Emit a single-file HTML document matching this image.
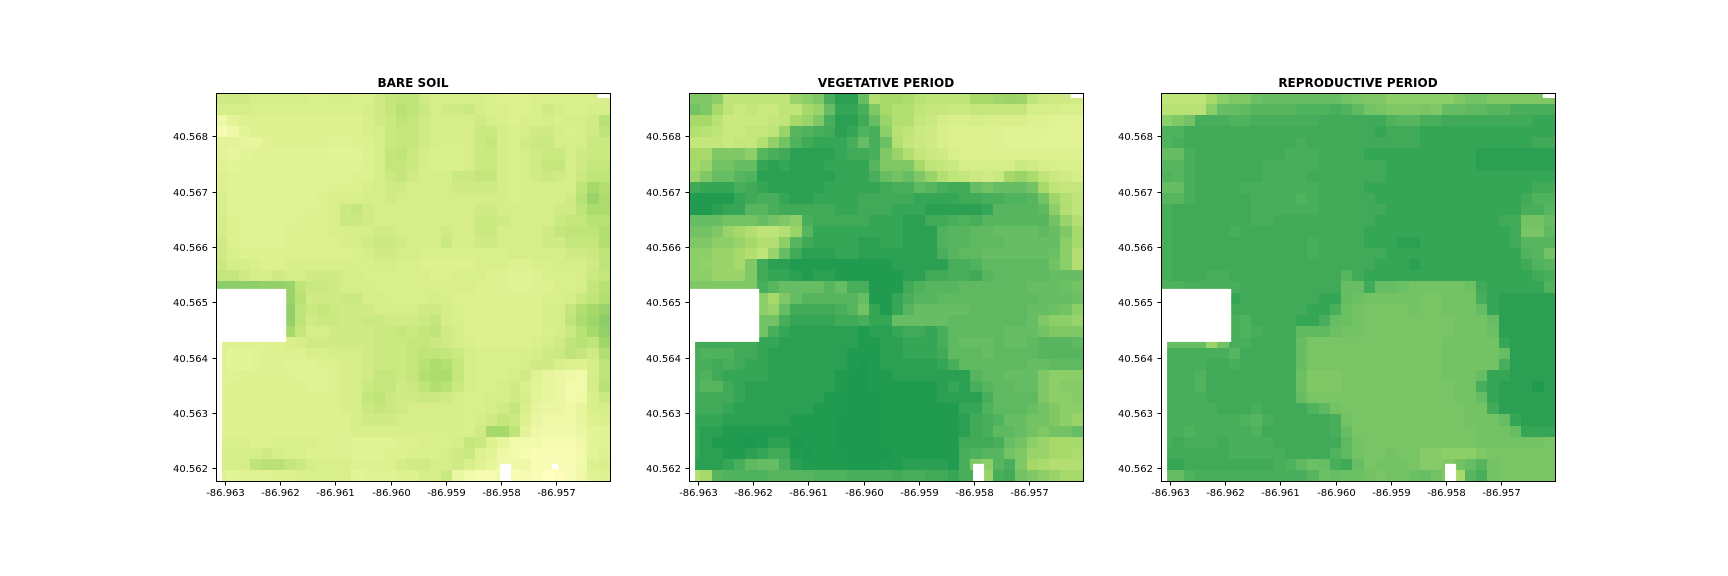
<!DOCTYPE html>
<html lang="en">
<head>
<meta charset="utf-8">
<title>NDVI maps by growth stage</title>
<style>
html,body{margin:0;padding:0;background:#fff}
#figure{display:block;width:1728px;height:576px;background:#fff}
text{font-family:"DejaVu Sans","Liberation Sans",sans-serif;fill:#000}
.tick-label{font-size:10px}
.panel-title{font-size:12px;font-weight:bold;text-anchor:middle}
</style>
</head>
<body>
<svg id="figure" xmlns="http://www.w3.org/2000/svg" width="1728" height="576" viewBox="0 0 1728 576"></svg>
<script>
const panelTitles = ["BARE SOIL", "VEGETATIVE PERIOD", "REPRODUCTIVE PERIOD"];
const xTickValues = [-86.963, -86.962, -86.961, -86.960, -86.959, -86.958, -86.957];
const yTickValues = [40.562, 40.563, 40.564, 40.565, 40.566, 40.567, 40.568];
const lonExtent = [-86.96316, -86.95603];
const latExtent = [40.56177, 40.56878];

// no-data extents: [lonMin, lonMax, latMin, latMax]
const sharedNoData = [
  [-86.96316, -86.96189, 40.564283, 40.565241],
  [-86.96316, -86.96305, 40.56177, 40.564283],
  [-86.95625, -86.95603, 40.56869, 40.56878],
  [-86.95802, -86.95782, 40.56177, 40.56208]
];
const bareSoilExtraNoData = [
  [-86.95708, -86.95697, 40.56198, 40.56208]
];

// index values x100, rows north to south
const bareSoilValues = [
[63,63,63,62,62, 62,62,62,61,61, 62,62,61,61,63, 65,66,66,63,62, 62,62,62,62,61, 60,60,60,61,61, 61,61,61,61,61],
[62,62,62,61,61, 61,61,61,61,61, 61,61,61,62,63, 65,67,66,64,62, 63,63,64,62,61, 61,60,60,61,63, 62,61,61,62,62],
[55,58,60,60,60, 60,60,60,60,60, 60,60,60,61,63, 64,66,65,63,62, 62,62,62,63,62, 61,60,61,61,62, 61,62,62,63,67],
[53,55,58,60,60, 60,60,60,60,60, 60,60,60,61,62, 64,65,65,63,62, 62,62,62,64,64, 62,61,62,63,63, 62,61,62,63,66],
[58,58,57,57,59, 60,60,60,60,60, 59,59,60,60,62, 64,65,65,63,62, 61,61,62,64,65, 62,61,63,64,64, 62,62,62,64,64],
[58,57,58,59,59, 59,59,59,59,59, 58,58,58,60,62, 65,66,64,62,61, 61,61,62,64,64, 62,61,62,63,64, 64,62,63,64,64],
[59,58,59,59,59, 59,59,59,59,59, 59,59,59,60,62, 65,65,64,62,61, 61,61,62,64,64, 62,61,62,63,65, 65,62,63,65,65],
[60,59,59,59,59, 59,59,59,59,59, 59,59,60,60,62, 64,65,63,62,62, 62,64,64,65,65, 62,61,62,63,64, 63,62,64,66,66],
[60,59,59,59,59, 59,59,59,59,59, 60,60,60,61,62, 63,63,62,62,62, 62,63,63,63,63, 62,61,62,62,62, 62,62,66,70,68],
[61,59,59,59,59, 59,59,59,59,60, 61,61,61,62,62, 63,62,62,62,62, 62,62,62,62,62, 62,61,62,62,62, 62,63,67,72,69],
[61,59,59,59,59, 59,59,59,60,60, 61,64,65,63,62, 62,62,62,62,62, 62,62,62,63,63, 62,62,62,62,62, 63,63,66,69,69],
[62,60,59,59,59, 59,59,60,60,60, 61,64,64,63,62, 62,62,62,62,62, 62,62,62,64,64, 63,62,62,62,62, 64,65,65,67,67],
[62,60,59,59,59, 59,60,60,60,60, 61,61,62,62,63, 63,62,62,62,62, 63,62,62,64,64, 62,62,62,62,63, 65,66,66,66,68],
[63,60,59,59,59, 59,60,60,60,60, 60,61,62,63,64, 64,63,62,62,62, 64,62,62,63,63, 62,62,62,62,63, 63,65,65,65,68],
[63,61,60,60,60, 60,60,60,60,60, 60,60,61,62,63, 63,62,62,61,61, 61,61,61,61,61, 61,62,62,62,62, 62,63,63,64,66],
[64,62,62,61,60, 60,61,61,61,61, 61,61,61,61,62, 62,61,61,60,60, 60,60,60,61,61, 61,60,60,61,61, 62,62,62,63,66],
[65,65,63,62,62, 63,62,62,63,63, 63,62,62,61,61, 61,61,61,61,60, 60,61,61,61,60, 60,59,59,60,61, 61,61,62,64,65],
[74,74,74,74,73, 73,72,66,64,64, 63,62,62,62,61, 61,61,61,61,61, 61,61,61,60,60, 60,59,59,60,60, 61,61,62,65,67],
[70,70,70,70,70, 70,72,67,63,63, 63,64,64,62,62, 61,61,61,61,62, 61,60,60,60,60, 60,60,60,60,61, 61,62,64,66,68],
[70,70,70,70,70, 70,73,66,64,65, 64,63,63,63,62, 62,62,62,63,63, 62,61,60,60,60, 60,60,60,60,62, 62,65,68,70,72],
[70,70,70,70,70, 70,73,66,63,64, 64,63,63,64,64, 63,63,63,64,65, 62,61,60,60,60, 60,60,60,60,62, 62,66,69,71,74],
[70,70,70,70,70, 70,70,65,62,62, 63,63,63,63,64, 64,65,64,65,66, 63,62,60,60,60, 60,60,60,60,61, 62,64,67,70,73],
[60,60,60,60,60, 60,61,62,63,63, 63,63,63,63,64, 64,64,65,65,64, 63,62,61,60,60, 60,60,60,61,62, 63,66,67,66,71],
[60,58,58,59,60, 60,60,60,61,61, 62,62,62,63,64, 64,64,65,66,66, 65,64,62,61,61, 61,61,61,62,63, 64,66,65,63,68],
[60,58,58,59,60, 60,59,59,59,60, 60,61,62,63,64, 64,64,65,67,69, 68,65,62,61,61, 61,61,62,63,63, 61,60,60,62,66],
[60,59,60,60,60, 60,60,59,59,59, 60,61,62,63,65, 65,64,65,68,69, 69,65,62,61,61, 61,62,63,59,57, 56,55,54,62,66],
[60,60,60,60,60, 60,60,60,59,59, 60,61,62,64,65, 65,63,64,66,68, 67,64,62,61,61, 62,63,61,58,57, 56,54,54,62,67],
[60,60,60,60,60, 60,60,60,60,60, 60,61,62,65,66, 64,63,63,64,64, 63,62,61,61,62, 62,63,62,58,57, 56,54,55,61,64],
[60,60,60,60,60, 60,60,60,60,60, 60,61,62,64,65, 64,63,62,62,62, 62,62,61,61,62, 63,65,61,57,56, 56,55,57,61,62],
[60,60,60,60,60, 60,60,60,60,60, 60,60,62,63,63, 63,62,62,62,62, 62,62,61,62,63, 65,64,60,56,55, 55,55,57,60,61],
[60,60,60,60,60, 60,60,60,60,60, 60,60,61,61,61, 61,61,61,61,61, 61,61,61,63,70, 70,66,58,55,54, 54,54,56,58,59],
[61,61,61,60,60, 61,61,61,61,60, 60,60,59,59,59, 59,60,60,61,61, 61,62,65,64,60, 57,54,54,54,53, 53,53,55,58,59],
[62,62,62,62,63, 62,61,61,60,60, 60,60,59,59,59, 60,60,61,61,61, 62,63,64,60,58, 55,54,53,52,52, 52,52,54,58,60],
[62,62,62,66,67, 67,65,64,62,61, 61,61,60,60,60, 60,62,63,63,62, 62,63,61,59,57, 55,55,55,52,52, 52,52,54,60,61],
[60,58,59,59,59, 60,60,61,61,61, 61,61,58,59,59, 59,60,60,62,62, 64,56,54,53,53, 54,52,53,52,50, 49,52,55,59,60]
];

const vegetativeValues = [
[76,76,74,66,66, 66,66,66,66,72, 74,76,84,87,87, 80,68,70,70,69, 67,66,66,66,66, 70,70,71,72,71, 66,64,63,63,63],
[78,76,70,66,64, 65,64,64,66,66, 70,72,80,86,86, 84,76,70,68,68, 66,65,65,64,64, 65,65,65,65,65, 62,62,62,61,61],
[70,70,67,64,64, 64,64,65,66,70, 72,76,84,87,87, 85,80,72,68,68, 65,64,62,61,61, 62,61,61,61,61, 60,60,59,59,59],
[68,67,66,64,64, 65,65,66,72,82, 83,84,85,87,86, 83,84,74,67,66, 64,63,61,60,60, 60,60,60,59,59, 59,59,58,58,58],
[65,65,65,64,65, 65,68,73,78,83, 85,86,86,86,84, 80,84,79,68,65, 64,63,61,60,60, 60,60,60,59,59, 59,58,58,58,58],
[70,70,76,76,76, 74,82,84,85,87, 87,87,87,86,85, 85,84,76,72,68, 65,64,63,61,60, 60,60,60,60,60, 60,60,60,60,60],
[70,72,78,78,80, 80,86,87,86,87, 87,87,86,86,86, 86,82,76,76,76, 70,66,65,64,62, 62,62,62,62,64, 63,62,61,61,61],
[72,76,80,80,82, 83,87,87,87,87, 87,87,87,86,86, 86,84,80,78,80, 76,72,68,66,65, 64,63,64,70,72, 69,66,64,63,62],
[85,86,86,86,84, 85,86,87,87,87, 87,87,86,86,86, 86,86,85,84,84, 81,82,84,85,85, 80,78,80,80,80, 78,70,66,65,65],
[88,88,88,88,86, 85,84,84,86,87, 87,86,86,86,86, 85,85,85,85,85, 86,86,86,86,85, 85,84,84,83,83, 82,78,71,68,66],
[88,88,87,86,86, 82,82,84,85,85, 85,85,85,86,86, 85,85,85,86,86, 86,87,87,87,87, 87,86,82,82,82, 82,81,74,68,66],
[80,80,80,78,78, 78,80,78,76,74, 84,85,85,85,85, 85,86,86,86,87, 87,85,85,84,83, 84,82,82,82,82, 82,82,78,72,68],
[78,78,76,72,70, 68,66,66,68,72, 82,86,86,86,86, 86,86,86,86,87, 87,87,83,82,82, 81,81,80,80,80, 80,81,80,76,70],
[76,76,74,74,72, 70,68,68,74,82, 85,86,86,86,86, 87,87,86,86,87, 87,87,83,82,82, 81,81,81,80,80, 80,80,80,74,70],
[74,74,72,72,70, 68,66,72,80,85, 87,87,87,86,86, 87,87,87,87,87, 87,87,84,82,81, 81,80,80,80,80, 80,80,79,74,68],
[74,73,72,72,70, 76,85,87,87,88, 88,88,88,88,88, 88,88,88,87,87, 87,87,87,84,84, 83,81,81,81,81, 81,81,78,74,68],
[74,74,72,72,72, 76,85,86,86,87, 88,87,87,88,88, 88,88,88,88,87, 87,85,85,84,84, 85,82,81,81,81, 81,81,80,80,80],
[76,76,76,76,76, 76,84,82,80,80, 80,80,82,80,84, 84,88,88,88,85, 83,82,82,82,81, 81,81,81,81,81, 80,80,80,79,78],
[80,80,80,80,80, 80,74,70,76,80, 82,82,82,82,82, 80,88,88,86,84, 82,82,81,81,81, 81,81,81,81,81, 81,80,80,80,79],
[80,80,80,80,80, 80,74,72,80,85, 85,85,85,84,82, 78,86,88,86,82, 80,80,80,80,80, 81,81,81,81,81, 80,80,79,78,74],
[80,80,80,80,80, 80,78,78,84,86, 86,86,86,85,85, 84,86,86,80,80, 80,80,80,81,81, 81,81,81,81,81, 80,76,74,74,72],
[80,80,80,80,80, 80,78,84,86,87, 87,87,87,87,87, 88,87,87,86,85, 85,86,84,81,81, 81,81,81,80,80, 80,78,76,76,76],
[85,85,85,85,85, 85,86,86,87,87, 87,87,87,87,87, 88,88,87,87,86, 86,86,84,81,80, 80,80,81,80,80, 81,82,82,82,81],
[84,83,83,83,85, 85,86,87,87,87, 87,87,87,87,88, 88,88,87,87,86, 86,86,85,81,81, 81,80,81,81,81, 81,82,82,82,82],
[84,84,85,84,85, 86,86,87,87,87, 87,87,87,87,88, 89,88,87,87,87, 87,87,86,84,81, 81,81,81,81,81, 80,80,81,81,81],
[84,83,85,86,86, 86,86,87,87,87, 87,87,87,88,89, 89,88,88,87,87, 87,87,87,87,87, 82,81,81,80,80, 80,76,74,74,74],
[84,82,82,85,86, 87,87,87,87,87, 87,87,87,88,89, 89,88,88,88,88, 88,88,87,86,87, 84,82,81,81,80, 80,76,74,75,75],
[85,85,85,85,86, 87,87,87,87,87, 87,87,88,88,89, 89,89,88,88,88, 88,88,87,87,87, 87,84,81,81,81, 81,76,74,74,75],
[85,85,85,86,87, 87,87,87,87,87, 87,88,88,88,89, 89,89,88,88,88, 88,88,88,88,86, 86,83,81,81,81, 80,78,76,74,74],
[86,86,86,87,87, 87,87,87,87,88, 88,88,88,89,89, 89,89,88,88,88, 88,88,88,88,87, 85,84,83,80,80, 78,78,76,74,72],
[86,87,87,88,88, 88,88,88,88,88, 88,88,88,89,89, 89,89,88,88,88, 88,88,88,88,87, 85,84,81,81,80, 78,76,78,78,80],
[86,87,88,88,88, 89,88,87,87,89, 88,88,88,89,89, 89,89,88,88,88, 88,88,88,88,85, 85,85,84,80,78, 74,72,70,70,70],
[86,87,87,88,88, 87,86,85,85,88, 89,88,88,88,89, 89,89,89,88,88, 88,88,88,88,84, 83,82,82,78,76, 72,72,70,70,69],
[87,87,87,86,84, 81,80,80,84,87, 88,88,88,88,89, 89,89,88,88,87, 87,87,87,88,84, 76,74,82,84,76, 70,69,68,68,68],
[68,70,82,83,83, 83,83,82,82,82, 82,83,83,83,84, 84,84,84,85,84, 84,85,85,86,84, 84,72,84,85,78, 76,74,72,70,70]
];

const reproductiveValues = [
[66,66,66,66,70, 74,76,76,79,80, 80,80,80,80,80, 80,78,77,76,76, 74,74,74,74,74, 74,76,78,78,76, 76,76,76,76,76],
[67,67,67,67,74, 80,80,81,82,82, 82,82,83,83,83, 84,83,81,78,77, 76,76,76,77,76, 80,80,81,81,82, 82,84,84,84,84],
[74,76,78,84,84, 84,83,83,84,84, 84,84,84,84,85, 85,85,85,85,85, 83,82,82,84,84, 85,85,85,85,85, 85,85,85,86,86],
[83,83,85,85,85, 85,85,85,85,85, 85,85,85,85,85, 85,85,85,85,86, 85,85,85,86,86, 86,86,86,86,86, 86,86,86,86,86],
[83,84,85,85,85, 85,85,85,85,85, 85,85,84,85,85, 85,85,85,85,85, 85,85,85,86,86, 86,86,86,86,86, 86,86,86,85,85],
[80,80,84,85,85, 85,85,85,85,85, 85,84,84,84,85, 85,85,85,86,86, 86,86,86,86,86, 86,86,86,87,87, 87,87,87,87,87],
[82,82,84,85,85, 85,85,85,85,84, 84,84,84,84,85, 85,85,85,85,85, 86,86,86,86,86, 86,86,86,87,87, 87,87,87,87,87],
[83,82,84,85,85, 85,85,85,85,84, 84,84,84,85,85, 85,85,85,85,85, 86,86,86,86,86, 86,86,86,86,86, 86,86,86,86,86],
[80,80,84,85,85, 85,85,84,84,84, 84,84,84,84,85, 85,85,85,86,86, 86,86,86,86,86, 86,86,86,86,86, 86,86,86,85,85],
[82,82,84,85,85, 85,85,85,84,84, 84,84,83,84,85, 85,85,85,85,86, 86,86,86,86,86, 86,86,86,86,86, 86,86,85,83,83],
[84,85,85,85,85, 85,85,85,84,84, 84,84,84,84,85, 85,85,85,85,85, 86,86,86,86,86, 86,86,86,86,86, 86,86,84,84,82],
[84,85,85,85,85, 85,85,85,84,84, 85,85,85,85,85, 85,85,85,85,86, 86,86,86,86,86, 86,86,86,86,86, 85,85,78,78,80],
[84,85,85,85,85, 85,84,85,85,85, 85,85,85,85,85, 85,85,85,86,86, 86,86,86,86,86, 86,86,86,86,86, 86,85,77,77,81],
[84,85,85,85,85, 85,85,85,85,85, 85,85,85,84,85, 85,85,85,86,86, 86,87,87,86,86, 86,86,86,86,86, 86,85,82,82,82],
[84,85,85,85,85, 85,85,85,85,85, 85,85,85,84,85, 85,85,85,85,85, 86,86,86,86,86, 86,86,86,86,86, 86,86,83,82,78],
[84,85,85,85,85, 85,85,85,85,85, 85,85,85,85,85, 85,85,85,85,86, 86,86,87,86,86, 86,86,86,86,86, 86,86,85,83,82],
[84,85,85,85,84, 84,85,85,85,85, 85,85,85,85,85, 85,82,85,86,86, 86,86,86,86,86, 86,86,86,86,86, 86,86,86,85,84],
[83,83,84,84,84, 84,84,85,85,85, 85,85,85,85,85, 85,80,80,85,80, 80,79,78,78,78, 78,78,79,85,86, 86,86,86,86,83],
[85,85,85,85,85, 85,86,85,85,85, 85,85,85,85,86, 86,80,79,78,78, 78,78,78,77,77, 78,78,78,84,86, 87,87,87,87,87],
[85,85,85,85,85, 85,85,85,85,85, 85,85,85,86,86, 84,79,78,77,77, 77,77,78,77,77, 78,78,78,80,86, 87,87,87,87,87],
[85,85,85,85,85, 82,84,83,85,85, 85,85,86,86,84, 80,79,78,77,77, 77,77,77,77,77, 77,78,78,78,80, 87,87,87,87,87],
[85,85,85,85,85, 82,84,83,84,85, 85,85,81,81,81, 79,78,78,77,77, 77,77,77,77,77, 77,78,78,78,79, 87,87,87,87,87],
[80,80,80,80,72, 78,84,84,85,85, 85,85,80,77,77, 77,77,77,77,77, 77,77,77,77,77, 78,78,78,78,78, 86,87,87,87,87],
[84,84,84,84,84, 84,82,85,85,85, 85,85,80,77,77, 77,77,77,77,77, 77,77,77,77,77, 78,78,78,78,78, 80,87,87,87,87],
[84,84,84,84,85, 85,84,85,85,85, 85,85,80,77,77, 77,77,77,77,77, 77,77,77,77,77, 78,78,78,78,78, 84,87,87,87,87],
[84,84,84,83,85, 85,85,85,85,85, 85,85,79,76,76, 76,77,77,77,77, 77,77,77,77,77, 78,78,78,80,86, 86,87,87,87,87],
[84,84,84,83,85, 85,85,85,85,85, 85,85,79,76,76, 76,77,77,77,77, 77,77,77,77,77, 77,78,78,84,86, 87,87,87,88,87],
[84,84,84,84,85, 85,85,85,85,85, 85,85,80,77,77, 77,77,77,77,77, 77,77,77,77,77, 77,78,78,80,86, 87,87,87,87,87],
[84,84,84,84,84, 85,85,85,84,85, 85,85,85,83,81, 78,77,77,77,77, 77,77,77,77,77, 77,77,78,78,85, 87,87,87,87,87],
[84,84,84,84,84, 84,84,83,82,84, 85,85,85,85,85, 84,78,77,77,77, 77,77,77,77,77, 77,77,78,78,78, 80,86,87,87,87],
[84,84,83,84,84, 84,84,84,83,85, 85,85,85,85,85, 84,80,77,77,77, 77,77,77,77,77, 77,77,77,78,78, 78,80,86,86,86],
[84,85,84,84,84, 85,84,84,84,84, 85,85,85,85,85, 85,81,78,77,77, 77,77,77,77,77, 77,77,77,78,78, 78,78,78,78,77],
[85,85,85,85,85, 85,84,84,84,84, 84,85,85,85,85, 83,81,78,77,77, 78,77,77,75,75, 74,74,74,76,77, 77,77,77,77,77],
[86,86,85,85,85, 85,85,85,85,85, 84,83,81,79,80, 84,85,80,77,78, 78,78,77,75,75, 76,78,80,82,78, 77,77,77,77,77],
[80,80,83,84,84, 84,84,84,84,84, 84,84,84,82,79, 80,79,79,78,77, 78,78,79,80,78, 76,70,82,84,78, 77,77,77,77,77]
];

const panelValues = [bareSoilValues, vegetativeValues, reproductiveValues];
const panelNoData = [sharedNoData.concat(bareSoilExtraNoData), sharedNoData, sharedNoData];
const panelLefts = [216, 689, 1161];
const panelNames = ["bare-soil", "vegetative-period", "reproductive-period"];

const AXES_TOP = 93, AXES_WIDTH = 394, AXES_HEIGHT = 388;
const SVG_NS = "http://www.w3.org/2000/svg";
const stops = [
  [40, [254,224,139]], [50, [255,255,191]], [59, [224,242,147]], [62, [214,238,137]],
  [70, [166,217,106]], [80, [102,189,99]], [85, [64,170,89]], [88, [32,155,80]],
  [90, [26,152,80]], [100, [0,104,55]]
];

function colorFor(v) {
  let lo = stops[0], hi = stops[stops.length - 1];
  for (let i = 0; i < stops.length - 1; i++) {
    if (v >= stops[i][0] && v <= stops[i + 1][0]) { lo = stops[i]; hi = stops[i + 1]; break; }
  }
  const t = (v - lo[0]) / (hi[0] - lo[0] || 1);
  const c = lo[1].map(function (q, k) { return Math.round(q + (hi[1][k] - q) * t); });
  return "rgb(" + c.join(",") + ")";
}

function make(tag, parent, attrs) {
  const el = document.createElementNS(SVG_NS, tag);
  for (const k in attrs) el.setAttribute(k, attrs[k]);
  parent.appendChild(el);
  return el;
}

const figure = document.getElementById("figure");

panelTitles.forEach(function (title, p) {
  const left = panelLefts[p];
  const scaleX = function (lon) { return left + (lon - lonExtent[0]) / (lonExtent[1] - lonExtent[0]) * AXES_WIDTH; };
  const scaleY = function (lat) { return AXES_TOP + (latExtent[1] - lat) / (latExtent[1] - latExtent[0]) * AXES_HEIGHT; };

  const group = make("g", figure, {});
  
  

  const cells = make("g", group, {"shape-rendering": "crispEdges"});
  
  

  const rows = panelValues[p];
  const nRows = rows.length;
  rows.forEach(function (row, r) {
    const nCols = row.length;
    const lat1 = latExtent[1] - (latExtent[1] - latExtent[0]) * r / nRows;
    const lat0 = latExtent[1] - (latExtent[1] - latExtent[0]) * (r + 1) / nRows;
    row.forEach(function (v, c) {
      const lon0 = lonExtent[0] + (lonExtent[1] - lonExtent[0]) * c / nCols;
      const lon1 = lonExtent[0] + (lonExtent[1] - lonExtent[0]) * (c + 1) / nCols;
      const x0 = Math.round(scaleX(lon0)), x1 = Math.round(scaleX(lon1));
      const y0 = Math.round(scaleY(lat1)), y1 = Math.round(scaleY(lat0));
      const cell = make("rect", cells, {x: x0, y: y0, width: x1 - x0, height: y1 - y0, fill: colorFor(v)});
      
      
    });
  });

  panelNoData[p].forEach(function (m) {
    const x0 = scaleX(m[0]), x1 = scaleX(m[1]), y0 = scaleY(m[3]), y1 = scaleY(m[2]);
    const mask = make("rect", group, {x: x0, y: y0, width: x1 - x0, height: y1 - y0, fill: "#fff"});
    
    
  });

  const frame = make("rect", group, {x: left + 0.5, y: AXES_TOP + 0.5, width: AXES_WIDTH, height: AXES_HEIGHT, fill: "none", stroke: "#000", "stroke-width": 1, "shape-rendering": "crispEdges"});
  
  

  xTickValues.forEach(function (t) {
    const x = Math.round(scaleX(t)) + 0.5;
    const bottom = AXES_TOP + AXES_HEIGHT + 0.5;
    const mark = make("line", group, {x1: x, x2: x, y1: bottom, y2: bottom + 4, stroke: "#000", "stroke-width": 1, "shape-rendering": "crispEdges"});
    
    
    const label = make("text", group, {x: x, y: bottom + 14.5, "text-anchor": "middle", "class": "tick-label"});
    
    
    label.textContent = t.toFixed(3);
  });

  yTickValues.forEach(function (t) {
    const y = Math.round(scaleY(t)) + 0.5;
    const mark = make("line", group, {x1: left + 0.5, x2: left - 3.5, y1: y, y2: y, stroke: "#000", "stroke-width": 1, "shape-rendering": "crispEdges"});
    
    
    const label = make("text", group, {x: left - 8, y: y + 3.5, "text-anchor": "end", "class": "tick-label"});
    
    
    label.textContent = t.toFixed(3);
  });

  const heading = make("text", group, {x: left + AXES_WIDTH / 2, y: 87, "class": "panel-title"});
  
  
  heading.textContent = title;
});
</script>
</body>
</html>
